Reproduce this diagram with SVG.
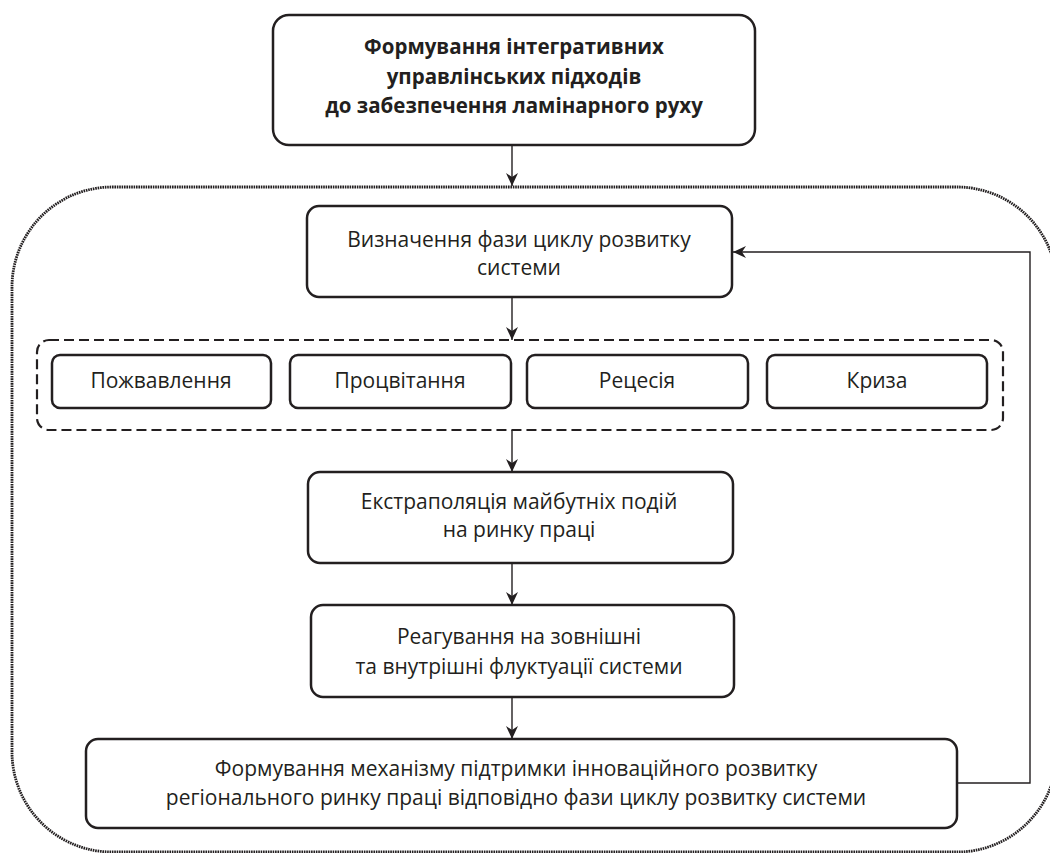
<svg xmlns="http://www.w3.org/2000/svg" width="1050" height="853" viewBox="0 0 1050 853">
<style>
.box{fill:#fff;stroke:#231f20;stroke-width:2.5}
.t{font-family:"Open Sans","Noto Sans",sans-serif;font-size:21px;fill:#231f20;text-anchor:middle}
.b{font-weight:bold;font-size:20.5px}
.c{fill:none;stroke:#231f20;stroke-width:1.4}
</style>
<defs>
<marker id="ah" markerUnits="userSpaceOnUse" markerWidth="14" markerHeight="12" refX="13" refY="6" orient="auto">
<path d="M0,0 L13,6 L0,12 L4,6 Z" fill="#231f20"/>
</marker>
</defs>
<rect id="outer" x="12" y="187" width="1045" height="665" rx="100" fill="none" stroke="#231f20" stroke-width="2.8" stroke-dasharray="1.6 0.8"/>
<g id="n1"><rect class="box" x="273" y="15" width="482" height="130" rx="16"/>
<text class="t b" x="514" y="54">Формування інтегративних</text>
<text class="t b" x="514" y="84">управлінських підходів</text>
<text class="t b" x="514" y="113">до забезпечення ламінарного руху</text></g>
<g id="n2"><rect class="box" x="307" y="206" width="425" height="91" rx="12"/>
<text class="t" x="519" y="247">Визначення фази циклу розвитку</text>
<text class="t" x="519" y="275">системи</text></g>
<g id="phases"><rect x="37" y="340" width="966" height="90" rx="12" fill="none" stroke="#231f20" stroke-width="2.2" stroke-dasharray="10 5"/></g>
<g id="p1"><rect class="box" x="52" y="355" width="219" height="53" rx="8"/><text class="t" x="161" y="388">Пожвавлення</text></g>
<g id="p2"><rect class="box" x="290" y="355" width="221" height="53" rx="8"/><text class="t" x="400" y="388">Процвітання</text></g>
<g id="p3"><rect class="box" x="527" y="355" width="221" height="53" rx="8"/><text class="t" x="637" y="388">Рецесія</text></g>
<g id="p4"><rect class="box" x="767" y="355" width="220" height="53" rx="8"/><text class="t" x="877" y="388">Криза</text></g>
<g id="n3"><rect class="box" x="308" y="472" width="425" height="91" rx="12"/>
<text class="t" x="519" y="509">Екстраполяція майбутніх подій</text>
<text class="t" x="519" y="537">на ринку праці</text></g>
<g id="n4"><rect class="box" x="311" y="605" width="423" height="92" rx="12"/>
<text class="t" x="519" y="644">Реагування на зовнішні</text>
<text class="t" x="519" y="674">та внутрішні флуктуації системи</text></g>
<g id="n5"><rect class="box" x="86" y="739" width="871" height="89" rx="12"/>
<text class="t" x="516" y="776">Формування механізму підтримки інноваційного розвитку</text>
<text class="t" x="516" y="805">регіонального ринку праці відповідно фази циклу розвитку системи</text></g>
<g id="connectors">
<path class="c" d="M512,145 V186" marker-end="url(#ah)"/>
<path class="c" d="M512,297 V340" marker-end="url(#ah)"/>
<path class="c" d="M512,430 V472" marker-end="url(#ah)"/>
<path class="c" d="M512,563 V605" marker-end="url(#ah)"/>
<path class="c" d="M512,697 V739" marker-end="url(#ah)"/>
<path class="c" d="M957,783 H1030 V252 H733" marker-end="url(#ah)"/>
</g>
</svg>
